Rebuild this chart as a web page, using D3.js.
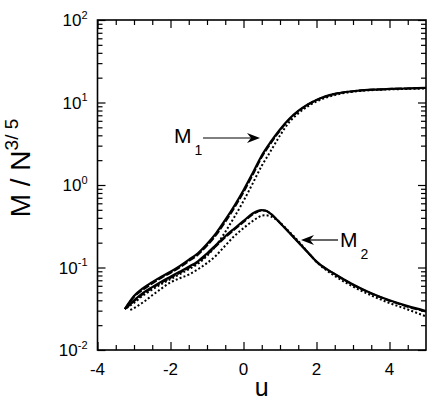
<!DOCTYPE html>
<html>
<head>
<meta charset="utf-8">
<script src="https://cdn.jsdelivr.net/npm/d3@7"></script>
<style>
  html, body { margin: 0; padding: 0; background: #fff; }
  svg { display: block; font-family: "Liberation Sans", Arial, Helvetica, sans-serif; }
</style>
</head>
<body>
<div id="chart"></div>
<script>
// values
const u1 = [-3.25, -3, -2.75, -2.5, -2.25, -2, -1.75, -1.5, -1.25, -1, -0.75, -0.5, -0.25, 0, 0.25, 0.5, 0.75, 1, 1.25, 1.5, 1.75, 2, 2.5, 3, 3.5, 4, 4.5, 5];
const m1Solid = [0.0314, 0.0451, 0.0564, 0.0665, 0.0776, 0.089, 0.104, 0.124, 0.149, 0.193, 0.261, 0.378, 0.561, 0.865, 1.39, 2.28, 3.35, 4.71, 6.31, 7.89, 9.40, 10.75, 12.7, 13.7, 14.3, 14.6, 14.8, 15.0];
const m1Dashed = [0.0314, 0.044, 0.054, 0.064, 0.075, 0.086, 0.100, 0.119, 0.143, 0.184, 0.248, 0.358, 0.53, 0.82, 1.32, 2.18, 3.22, 4.58, 6.2, 7.8, 9.35, 10.7, 12.7, 13.7, 14.3, 14.6, 14.8, 15.0];
const u1Dot = [-3.2, -3, -2.75, -2.5, -2.25, -2, -1.75, -1.5, -1.25, -1, -0.75, -0.5, -0.25, 0, 0.25, 0.5, 0.75, 1, 1.25, 1.5, 1.75, 2, 2.5, 3, 3.5, 4, 4.5, 5];
const m1Dotted = [0.0323, 0.0372, 0.0458, 0.054, 0.063, 0.0722, 0.0828, 0.0952, 0.111, 0.138, 0.185, 0.27, 0.41, 0.64, 1.04, 1.71, 2.60, 3.98, 5.75, 7.36, 8.92, 10.3, 12.3, 13.5, 14.1, 14.4, 14.6, 14.8];

const u2 = [-3.25, -3, -2.75, -2.5, -2.25, -2, -1.75, -1.5, -1.25, -1, -0.75, -0.5, -0.25, 0, 0.25, 0.4, 0.5, 0.6, 0.75, 1, 1.25, 1.5, 1.75, 2, 2.5, 3, 3.5, 4, 4.5, 5];
const m2Solid = [0.0314, 0.0399, 0.0491, 0.0579, 0.0675, 0.0774, 0.0887, 0.102, 0.119, 0.148, 0.188, 0.239, 0.297, 0.367, 0.451, 0.487, 0.495, 0.491, 0.446, 0.346, 0.266, 0.202, 0.154, 0.118, 0.0834, 0.0622, 0.0488, 0.0400, 0.0340, 0.0297];
const m2Dashed = [0.0314, 0.0390, 0.0478, 0.0562, 0.0655, 0.0750, 0.0860, 0.0990, 0.116, 0.143, 0.182, 0.232, 0.288, 0.356, 0.440, 0.478, 0.490, 0.489, 0.446, 0.348, 0.268, 0.203, 0.155, 0.118, 0.0830, 0.0618, 0.0484, 0.0396, 0.0335, 0.0292];
const u2Dot = [-3.1, -3, -2.75, -2.5, -2.25, -2, -1.75, -1.5, -1.25, -1, -0.75, -0.5, -0.25, 0, 0.25, 0.4, 0.5, 0.6, 0.75, 1, 1.25, 1.5, 1.75, 2, 2.5, 3, 3.5, 4, 4.5, 5];
const m2Dotted = [0.0305, 0.0322, 0.0378, 0.0460, 0.0555, 0.0660, 0.0740, 0.0820, 0.0950, 0.113, 0.140, 0.184, 0.241, 0.300, 0.365, 0.404, 0.426, 0.430, 0.415, 0.351, 0.273, 0.210, 0.156, 0.117, 0.0789, 0.0588, 0.0458, 0.0371, 0.0310, 0.0255];

const xTicks = [-4, -2, 0, 2, 4];
const xMinorTicks = [-3.5, -3, -2.5, -1.5, -1, -0.5, 0.5, 1, 1.5, 2.5, 3, 3.5, 4.5];
const yExponents = [-2, -1, 0, 1, 2];

const WIDTH = 433, HEIGHT = 402;
const LEFT = 97.5, RIGHT = 426, TOP = 20, BOTTOM = 350;

const svg = d3.select("#chart").append("svg")
  .attr("width", WIDTH)
  .attr("height", HEIGHT);

const x = d3.scaleLinear().domain([-4, 5]).range([LEFT, RIGHT]);
const y = d3.scaleLog().domain([0.01, 100]).range([BOTTOM, TOP]);

const yMajor = yExponents.map(e => Math.pow(10, e));
const yMinor = [];
yExponents.slice(0, -1).forEach(e => {
  for (let k = 2; k <= 9; k++) yMinor.push(k * Math.pow(10, e));
});

// ticks on all four sides, pointing inward
const sides = [
  [() => d3.axisBottom(x), `translate(0,${BOTTOM})`, xTicks, xMinorTicks],
  [() => d3.axisTop(x), `translate(0,${TOP})`, xTicks, xMinorTicks],
  [() => d3.axisLeft(y), `translate(${LEFT},0)`, yMajor, yMinor],
  [() => d3.axisRight(y), `translate(${RIGHT},0)`, yMajor, yMinor]
];
sides.forEach(([make, tr, major, minor]) => {
  [[major, -8], [minor, -5]].forEach(([vals, size]) => {
    const g = svg.append("g")
      .attr("transform", tr)
      .call(make().tickValues(vals).tickSize(size).tickSizeOuter(0).tickFormat(""));
    g.select(".domain").remove();
    g.selectAll("line").attr("stroke", "#000").attr("stroke-width", 1.2);
  });
});

svg.append("rect")
  .attr("x", LEFT).attr("y", TOP)
  .attr("width", RIGHT - LEFT).attr("height", BOTTOM - TOP)
  .attr("fill", "none").attr("stroke", "#000").attr("stroke-width", 1.6);

// tick labels
svg.append("g").selectAll("text")
  .data(xTicks)
  .join("text")
    .attr("x", d => x(d))
    .attr("y", BOTTOM + 25)
    .attr("text-anchor", "middle")
    .attr("font-size", 17)
    .text(d => d);

const yl = svg.append("g").selectAll("text")
  .data(yExponents)
  .join("text")
    .attr("x", LEFT - 10)
    .attr("y", d => y(Math.pow(10, d)) + 6)
    .attr("text-anchor", "end")
    .attr("font-size", 17);
yl.append("tspan").text("10");
yl.append("tspan").attr("font-size", 11).attr("dy", -7.5).text(d => d);

// axis titles
svg.append("text")
  .attr("x", (LEFT + RIGHT) / 2)
  .attr("y", 396)
  .attr("text-anchor", "middle")
  .attr("font-size", 25)
  .text("u");

const ytitle = svg.append("text")
  .attr("transform", "translate(30,168) rotate(-90)")
  .attr("text-anchor", "middle")
  .attr("font-size", 28);
ytitle.append("tspan").text("M / N");
ytitle.append("tspan").attr("font-size", 19).attr("dy", -12).text("3/ 5");

// curves
const line = d3.line()
  .x(d => x(d[0]))
  .y(d => y(d[1]))
  .curve(d3.curveMonotoneX);

const curves = [
  { u: u1Dot, m: m1Dotted, dash: "2,2.2", w: 2 },
  { u: u2Dot, m: m2Dotted, dash: "2,2.2", w: 2 },
  { u: u1, m: m1Dashed, dash: "7,2", w: 2 },
  { u: u2, m: m2Dashed, dash: "7,2", w: 2 },
  { u: u1, m: m1Solid, dash: null, w: 2.2 },
  { u: u2, m: m2Solid, dash: null, w: 2.2 }
];

svg.append("g").selectAll("path")
  .data(curves)
  .join("path")
    .attr("d", c => line(d3.zip(c.u, c.m)))
    .attr("fill", "none")
    .attr("stroke", "#000")
    .attr("stroke-width", c => c.w)
    .attr("stroke-dasharray", c => c.dash);

// labels with arrows
function arrow(x1, x2, yy) {
  const dir = Math.sign(x2 - x1);
  svg.append("line")
    .attr("x1", x1).attr("y1", yy)
    .attr("x2", x2 - dir * 6).attr("y2", yy)
    .attr("stroke", "#000").attr("stroke-width", 1.2);
  svg.append("path")
    .attr("d", `M${x2},${yy} L${x2 - dir * 13},${yy - 5} L${x2 - dir * 9},${yy} L${x2 - dir * 13},${yy + 5} Z`)
    .attr("fill", "#000");
}

function label(tx, ty, sub) {
  const t = svg.append("text")
    .attr("x", tx).attr("y", ty)
    .attr("font-size", 21);
  t.append("tspan").text("M");
  t.append("tspan").attr("font-size", 14).attr("dx", 3).attr("dy", 12).text(sub);
}

label(174, 143, "1");
arrow(203, 260, 138);
label(340, 247, "2");
arrow(338, 301, 240);
</script>
</body>
</html>
